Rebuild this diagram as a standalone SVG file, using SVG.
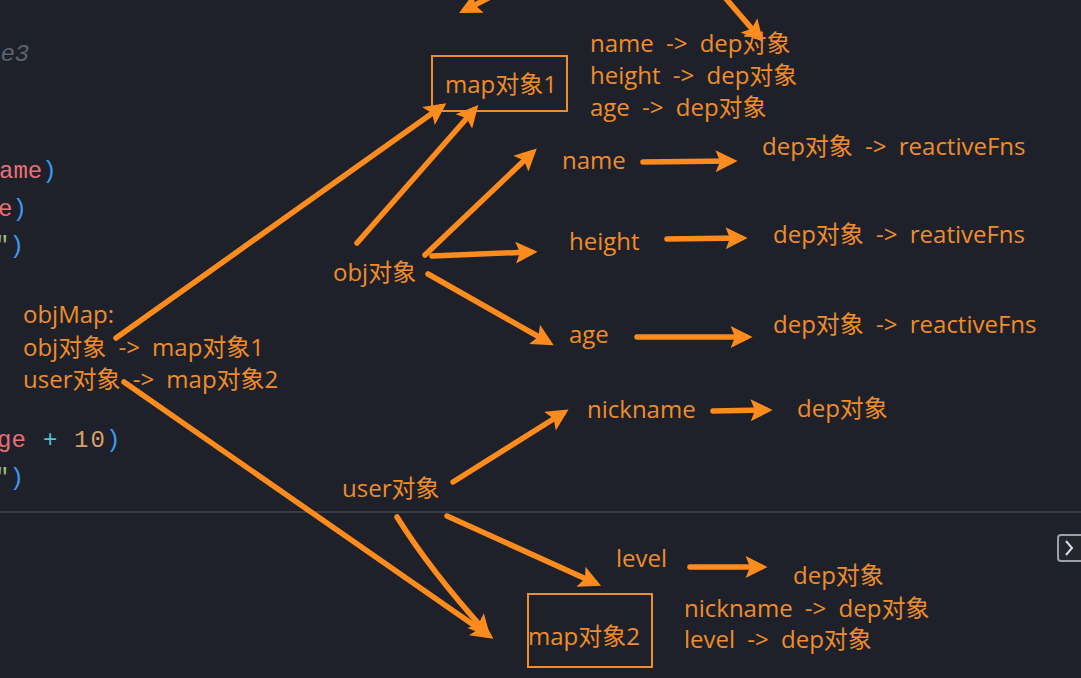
<svg xmlns="http://www.w3.org/2000/svg" width="1081" height="678" viewBox="0 0 1081 678">
<style>
.t{font-family:"Open Sans","Noto Sans CJK SC",sans-serif;font-size:24px;fill:#ef8c2c;word-spacing:6px}
.c{font-family:"Liberation Mono","DejaVu Sans Mono",monospace;font-size:24px}
.a{fill:none;stroke:#fd8b1d;stroke-width:5.5;stroke-linecap:round;marker-end:url(#ah)}
.box{fill:none;stroke:#ef8c2c;stroke-width:2}
</style>
<defs>
<marker id="ah" viewBox="0 0 10 10" refX="7" refY="5" markerWidth="25" markerHeight="22" markerUnits="userSpaceOnUse" orient="auto"><path d="M0,0 L10,5 L0,10 L2,5 z" fill="#fd8b1d"/></marker>
</defs>
<rect x="0" y="0" width="1081" height="678" fill="#1e2129"/>
<g id="code">
<text class="c" x="-14" y="61" fill="#5c6370" font-style="italic">ue3</text>
<text class="c" x="-1" y="178"><tspan fill="#e8707a">ame</tspan><tspan fill="#3b9cf0">)</tspan></text>
<text class="c" x="-2" y="216"><tspan fill="#e8707a">e</tspan><tspan fill="#3b9cf0">)</tspan></text>
<text class="c" x="-5" y="253"><tspan fill="#98c379">"</tspan><tspan fill="#3b9cf0">)</tspan></text>
<text class="c" y="447"><tspan x="-3" fill="#e8707a">ge</tspan><tspan x="43" fill="#56c2d6">+</tspan><tspan x="74" fill="#d9a06a" letter-spacing="2">10</tspan><tspan x="106" fill="#3b9cf0">)</tspan></text>
<text class="c" x="-5" y="485"><tspan fill="#98c379">"</tspan><tspan fill="#3b9cf0">)</tspan></text>
<line x1="0" y1="512" x2="1081" y2="512" stroke="#3a3e46" stroke-width="2"/>
<rect x="1058" y="535" width="28" height="26" rx="3" fill="#23262d" stroke="#9aa0a8" stroke-width="2"/>
<path d="M1066,541 L1072,548 L1066,555" fill="none" stroke="#d8dbe0" stroke-width="2"/>
</g>
<g id="connectors">
<path class="a" d="M500,-8 L465,10"/>
<path class="a" d="M722,-6 L759,37"/>
<path class="a" d="M116,338 L441,107"/>
<path class="a" d="M357,243 L474,110"/>
<path class="a" d="M425,255 L532,153"/>
<path class="a" d="M432,256 L531,252"/>
<path class="a" d="M428,274 L548,342"/>
<path class="a" d="M643,162 L731,161"/>
<path class="a" d="M667,239 L741,238"/>
<path class="a" d="M637,337 L746,337"/>
<path class="a" d="M713,411 L766,410"/>
<path class="a" d="M453,482 L563,413"/>
<path class="a" d="M124,382 L488,635"/>
<path class="a" d="M397,517 Q430,570 486,632"/>
<path class="a" d="M447,516 L595,583"/>
<path class="a" d="M690,567 L761,567"/>
</g>
<g id="map1">
<rect class="box" x="432" y="56" width="135" height="55"/>
<text class="t" x="445" y="93">map对象1</text>
</g>
<g id="map1-entries">
<text class="t" x="590" y="52">name -&gt; dep对象</text>
<text class="t" x="590" y="84">height -&gt; dep对象</text>
<text class="t" x="590" y="116">age -&gt; dep对象</text>
</g>
<g id="objMap">
<text class="t" x="23" y="323">objMap:</text>
<text class="t" x="23" y="356">obj对象 -&gt; map对象1</text>
<text class="t" x="23" y="388">user对象 -&gt; map对象2</text>
</g>
<g id="obj"><text class="t" x="333" y="281">obj对象</text></g>
<g id="name"><text class="t" x="562" y="169">name</text></g>
<g id="height"><text class="t" x="569" y="250">height</text></g>
<g id="age"><text class="t" x="569" y="343">age</text></g>
<g id="dep-name"><text class="t" x="762" y="155">dep对象 -&gt; reactiveFns</text></g>
<g id="dep-height"><text class="t" x="773" y="243">dep对象 -&gt; reativeFns</text></g>
<g id="dep-age"><text class="t" x="773" y="333">dep对象 -&gt; reactiveFns</text></g>
<g id="user"><text class="t" x="342" y="497">user对象</text></g>
<g id="nickname"><text class="t" x="587" y="418">nickname</text></g>
<g id="dep-nickname"><text class="t" x="797" y="417">dep对象</text></g>
<g id="level"><text class="t" x="616" y="567">level</text></g>
<g id="dep-level"><text class="t" x="793" y="584">dep对象</text></g>
<g id="map2">
<rect class="box" x="528" y="594" width="124" height="73"/>
<text class="t" x="528" y="645">map对象2</text>
</g>
<g id="map2-entries">
<text class="t" x="684" y="617">nickname -&gt; dep对象</text>
<text class="t" x="684" y="648">level -&gt; dep对象</text>
</g>
</svg>
